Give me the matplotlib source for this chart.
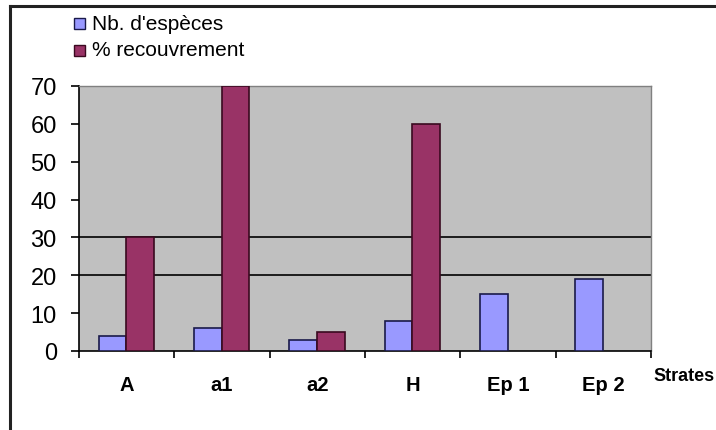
import matplotlib
matplotlib.use("Agg")
import matplotlib.pyplot as plt
import numpy as np
from matplotlib.lines import Line2D
from matplotlib.patches import Rectangle

categories = ["A", "a1", "a2", "H", "Ep 1", "Ep 2"]
nb_especes = [4, 6, 3, 8, 15, 19]
recouvrement = [30, 70, 5, 60, 0, 0]
series_names = ["Nb. d'espèces", "% recouvrement"]
yticks = [0, 10, 20, 30, 40, 50, 60, 70]

plt.rcParams['font.family'] = ['Liberation Sans', 'DejaVu Sans']

W, H = 716, 431
fig = plt.figure(figsize=(W / 100, H / 100), dpi=100)

ax = fig.add_axes([79 / W, 1 - 352 / H, (651 - 79) / W, (352 - 87) / H])
ax.set_facecolor("#C0C0C0")

x = np.arange(len(categories))
bw = 0.29
blue_lw = [1.2 if v > 0 else 0 for v in nb_especes]
red_lw = [1.2 if v > 0 else 0 for v in recouvrement]
ax.bar(x - bw / 2 - 0.005, nb_especes, width=bw, color="#9999FF", edgecolor="#1a1a4a", linewidth=blue_lw, zorder=3)
ax.bar(x + bw / 2 - 0.005, recouvrement, width=bw, color="#993366", edgecolor="#3a0a20", linewidth=red_lw, zorder=3)

for g in [20, 30]:
    ax.axhline(g, color="black", linewidth=1.2, zorder=1)

ax.set_xlim(-0.5, len(categories) - 0.5)
ax.set_ylim(0, 70)
ax.set_yticks(yticks)
ax.set_yticklabels([str(t) for t in yticks], fontsize=17)
ax.set_xticks(np.arange(len(categories) + 1) - 0.5)
ax.set_xticklabels([])
ax.set_xticks(x, minor=True)
ax.set_xticklabels(categories, minor=True, fontsize=14.5, fontweight="bold")
ax.tick_params(axis="x", which="minor", length=0, pad=17)
ax.tick_params(axis="x", which="major", length=5, width=1.2, direction="out")
ax.tick_params(axis="y", length=6, width=1.2, direction="out", pad=10)

for s in ["left", "bottom"]:
    ax.spines[s].set_color("black")
    ax.spines[s].set_linewidth(1.2)
for s in ["top", "right"]:
    ax.spines[s].set_color("#808080")
    ax.spines[s].set_linewidth(1.0)

fig.text(653 / W, 1 - 377 / H, "Strates", fontsize=13, fontweight="bold", va="center", ha="left")

# legend
colors = ["#9999FF", "#993366"]
edges = ["#1a1a4a", "#3a0a20"]
for i, (name, c, e) in enumerate(zip(series_names, colors, edges)):
    yc = 24 + i * 27
    fig.patches.append(Rectangle((74 / W, 1 - (yc + 5.5) / H), 11 / W, 11 / H,
                                 transform=fig.transFigure, facecolor=c, edgecolor=e, linewidth=1))
    fig.text(92 / W, 1 - yc / H, name, fontsize=15, va="center", ha="left")

# outer frame
fig.add_artist(Line2D([10 / W, 1.0], [1 - 7 / H, 1 - 7 / H], color="#222222", linewidth=2.2, transform=fig.transFigure))
fig.add_artist(Line2D([10 / W, 10 / W], [0.0, 1 - 7 / H], color="#222222", linewidth=2.2, transform=fig.transFigure))

fig.savefig("out.png", dpi=100)
